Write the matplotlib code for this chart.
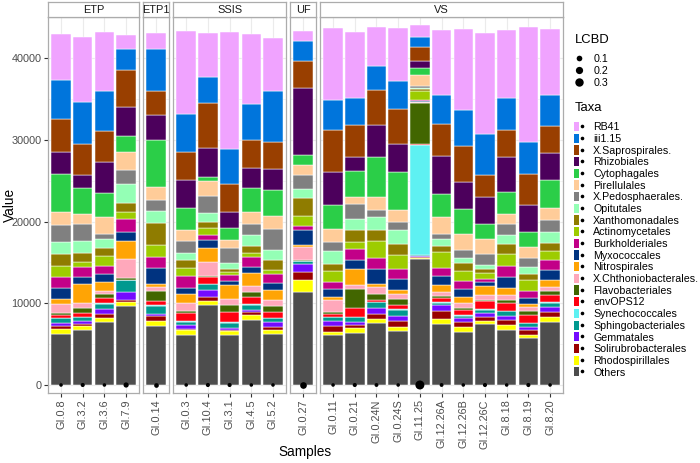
import numpy as np
import matplotlib
matplotlib.use('Agg')
import matplotlib.pyplot as plt
from matplotlib.patches import Patch
from matplotlib.lines import Line2D
from matplotlib.legend_handler import HandlerTuple

plt.rcParams['font.family'] = ['Liberation Sans', 'DejaVu Sans']

# Samples per facet
groups = ['ETP', 'ETP1', 'SSIS', 'UF', 'VS']
group_samples = [
    ['GI.0.8', 'GI.3.2', 'GI.3.6', 'GI.7.9'],
    ['GI.0.14'],
    ['GI.0.3', 'GI.10.4', 'GI.3.1', 'GI.4.5', 'GI.5.2'],
    ['GI.0.27'],
    ['GI.0.11', 'GI.0.21', 'GI.0.24N', 'GI.0.24S', 'GI.11.25', 'GI.12.26A',
     'GI.12.26B', 'GI.12.26C', 'GI.8.18', 'GI.8.19', 'GI.8.20'],
]

# LCBD per sample (same order as the samples above)
lcbd = [0.035, 0.045, 0.035, 0.08, 0.06, 0.035, 0.045, 0.045, 0.035, 0.035,
        0.16, 0.035, 0.045, 0.04, 0.035, 0.36, 0.04, 0.035, 0.045, 0.035, 0.045, 0.035]

# Abundance of each taxon per sample
rb41 = [5670, 8050, 7260, 1650, 1860, 10130, 5290, 14330, 8540, 6590, 1290,
        8710, 8040, 4760, 6390, 1410, 8020, 9980, 12390, 8350, 14060, 8050]
iii115 = [4770, 5140, 4830, 2570, 5240, 4710, 3240, 4280, 4410, 6210, 2360,
          3670, 3370, 2970, 3460, 1310, 3550, 4370, 4930, 3950, 3950, 3760]
saprospirales = [4040, 3790, 3860, 4590, 2940, 3430, 5480, 3400, 3490, 3340, 3390,
                 5230, 3880, 4280, 4280, 1630, 3900, 4410, 2720, 3270, 3790, 3390]
rhizobiales = [2690, 1590, 3730, 3490, 2960, 3400, 3550, 1980, 2440, 2460, 8150,
               4010, 1750, 3880, 3390, 890, 4660, 3320, 3370, 4280, 3270, 3280]
cytophagales = [4650, 3180, 3000, 2020, 5750, 2660, 540, 1430, 2950, 3260, 1190,
                2910, 3150, 4900, 4690, 860, 2780, 3060, 1750, 2640, 1840, 3460]
pirellulales = [1590, 1220, 2080, 2140, 1590, 1410, 1790, 990, 1410, 1540, 1220,
                1620, 810, 1600, 1530, 1370, 2120, 1920, 1920, 1310, 1350, 1430]
pedosphaerales = [2080, 2020, 550, 1770, 1350, 1510, 2040, 1920, 1350, 2630, 1750,
                  1160, 1840, 850, 1000, 180, 610, 1000, 1290, 1320, 1100, 1490]
opitutales = [1470, 1470, 1100, 2330, 1470, 780, 1200, 640, 1320, 1190, 1100,
              1490, 1430, 1630, 1710, 180, 820, 660, 450, 1130, 860, 1300]
xanthomonadales = [1470, 1100, 980, 1100, 2750, 950, 700, 400, 930, 1200, 2190,
                   890, 1380, 1320, 1350, 240, 780, 910, 560, 1140, 750, 1030]
actinomycetales = [1350, 610, 1220, 860, 1470, 980, 830, 430, 490, 490, 1300,
                   1310, 860, 2080, 1710, 1100, 1950, 1250, 660, 1490, 1260, 1080]
burkholderiales = [1350, 1220, 980, 1590, 1290, 1470, 640, 730, 1160, 1160, 390,
                   950, 1430, 1370, 1140, 120, 1030, 1020, 400, 1350, 910, 1260]
myxococcales = [1350, 920, 1040, 1100, 2020, 800, 1000, 510, 800, 820, 1860,
                980, 1020, 1750, 1430, 120, 1110, 860, 530, 1350, 770, 1250]
nitrospirales = [610, 2260, 1040, 2140, 340, 1060, 1710, 1630, 1590, 1260, 260,
                 340, 1960, 370, 400, 60, 840, 760, 1130, 830, 290, 820]
chthoniobacterales = [1100, 670, 370, 2390, 450, 1050, 1750, 760, 730, 760, 1640,
                      1400, 580, 860, 700, 120, 500, 620, 590, 610, 530, 500]
flavobacteriales = [240, 550, 550, 180, 1320, 210, 40, 830, 530, 670, 50,
                    310, 2290, 700, 730, 5020, 180, 310, 60, 370, 440, 450]
envops12 = [310, 490, 550, 60, 480, 980, 880, 1250, 890, 710, 50,
            340, 1060, 270, 470, 90, 510, 600, 1030, 1000, 980, 880]
synechococcales = [60, 30, 120, 60, 60, 120, 20, 100, 90, 60, 20,
                   60, 50, 60, 50, 13380, 60, 60, 60, 60, 50, 50]
sphingobacteriales = [610, 490, 730, 1410, 950, 400, 710, 580, 620, 430, 380,
                      490, 560, 690, 770, 150, 340, 340, 370, 580, 490, 580]
gemmatales = [370, 370, 610, 980, 240, 390, 800, 280, 330, 640, 940,
              580, 420, 730, 590, 100, 730, 490, 530, 420, 340, 550]
solirubrobacterales = [370, 310, 490, 240, 610, 220, 490, 170, 270, 310, 950,
                       690, 310, 670, 780, 120, 1000, 590, 490, 660, 610, 660]
rhodospirillales = [610, 430, 490, 550, 610, 510, 490, 400, 620, 550, 1520,
                    450, 610, 490, 530, 240, 530, 550, 430, 640, 390, 550]
others = [6240, 6730, 7650, 9610, 7280, 6180, 9850, 6180, 8000, 6240, 11360,
          6060, 6390, 7550, 6550, 15360, 7490, 6510, 7410, 6710, 5750, 7750]

# legend order (top of stack first)
taxa = ['RB41', 'iii1.15', 'X.Saprospirales.', 'Rhizobiales', 'Cytophagales',
        'Pirellulales', 'X.Pedosphaerales.', 'Opitutales', 'Xanthomonadales',
        'Actinomycetales', 'Burkholderiales', 'Myxococcales', 'Nitrospirales',
        'X.Chthoniobacterales.', 'Flavobacteriales', 'envOPS12', 'Synechococcales',
        'Sphingobacteriales', 'Gemmatales', 'Solirubrobacterales',
        'Rhodospirillales', 'Others']
taxa_values = [rb41, iii115, saprospirales, rhizobiales, cytophagales,
               pirellulales, pedosphaerales, opitutales, xanthomonadales,
               actinomycetales, burkholderiales, myxococcales, nitrospirales,
               chthoniobacterales, flavobacteriales, envops12, synechococcales,
               sphingobacteriales, gemmatales, solirubrobacterales,
               rhodospirillales, others]
taxa_colors = ['#F0A3FF', '#0075DC', '#993F00', '#4C005C', '#2BCE48',
               '#FFCC99', '#808080', '#94FFB5', '#8F7C00', '#9DCC00',
               '#C20088', '#003380', '#FFA405', '#FFA8BB', '#426600',
               '#FF0010', '#5EF1F2', '#00998F', '#740AFF', '#990000',
               '#FFFF00', '#4D4D4D']

lcbd_breaks = [0.1, 0.2, 0.3]


def dot_px(v, vmin=0.03, vmax=0.36):
    # area scale like ggplot's scale_size
    r = np.clip((np.asarray(v) - vmin) / (vmax - vmin), 0, 1)
    return 2.8 + 6.2 * np.sqrt(r)


W, H = 700, 463
fig = plt.figure(figsize=(W / 100, H / 100), dpi=100)

unit = 21.7
gap = 4
x0 = 48
panel_top, panel_bot, strip_top = 17, 393, 2
border = '#ACACAC'
grid = '#EBEBEB'
tick_col = '#4D4D4D'

pos = 0
x = x0
for gi, (g, names) in enumerate(zip(groups, group_samples)):
    n = len(names)
    w = (n + 0.2) * unit
    ax = fig.add_axes([x / W, 1 - panel_bot / H, w / W, (panel_bot - panel_top) / H])
    ax.set_xlim(-0.6, n - 0.4)
    ax.set_ylim(-980, 45040)
    xs = np.arange(n)
    bottom = np.zeros(n)
    for vals, col in zip(taxa_values[::-1], taxa_colors[::-1]):
        v = np.array(vals[pos:pos + n], dtype=float)
        ax.bar(xs, v, bottom=bottom, width=0.9, color=col,
               edgecolor='white', linewidth=0.35, zorder=2)
        bottom += v
    sizes = (dot_px(lcbd[pos:pos + n]) / 1.389) ** 2
    ax.scatter(xs, np.zeros(n), s=sizes, color='black', linewidths=0, zorder=3)

    ax.set_xticks(xs)
    ax.set_xticklabels(names, rotation=90, fontsize=7.8, color=tick_col)
    ax.set_yticks([0, 10000, 20000, 30000, 40000])
    ax.set_yticks([5000, 15000, 25000, 35000, 45000], minor=True)
    ax.grid(True, which='major', color=grid, linewidth=0.8, zorder=0)
    ax.grid(True, which='minor', axis='y', color=grid, linewidth=0.4, zorder=0)
    ax.set_axisbelow(True)
    ax.tick_params(axis='x', length=3, color='#333333', pad=1.5)
    ax.tick_params(which='minor', length=0)
    if gi == 0:
        ax.set_yticklabels(['0', '10000', '20000', '30000', '40000'],
                           fontsize=7.8, color=tick_col)
        ax.tick_params(axis='y', length=3, color='#333333', pad=1.5)
    else:
        ax.tick_params(axis='y', left=False, labelleft=False)
    for s in ax.spines.values():
        s.set_color(border)
        s.set_linewidth(0.9)

    sax = fig.add_axes([x / W, 1 - panel_top / H, w / W, (panel_top - strip_top) / H])
    sax.set_xticks([])
    sax.set_yticks([])
    for s in sax.spines.values():
        s.set_color(border)
        s.set_linewidth(0.9)
    sax.text(0.5, 0.45, g, ha='center', va='center', fontsize=7.9,
             color='#1A1A1A', transform=sax.transAxes)

    pos += n
    x += w + gap

fig.text(305 / W, 1 - 452 / H, 'Samples', ha='center', va='center', fontsize=9.8)
fig.text(10 / W, 1 - 205 / H, 'Value', ha='center', va='center', rotation=90,
         fontsize=9.8)

# legend titles
fig.text(575 / W, 1 - 40 / H, 'LCBD', ha='left', va='center', fontsize=9.4)
fig.text(575 / W, 1 - 108 / H, 'Taxa', ha='left', va='center', fontsize=9.4)

leg_kw = dict(loc='upper left', bbox_transform=fig.transFigure, frameon=False,
              borderpad=0, borderaxespad=0, fontsize=7.7, handlelength=0.95,
              handletextpad=0.85, labelspacing=0.13)

# LCBD legend
lcbd_handles = [Line2D([], [], marker='o', color='black', linestyle='',
                       markersize=float(dot_px(b)) / 1.389, markeredgewidth=0)
                for b in lcbd_breaks]
leg1 = fig.legend(lcbd_handles, [str(b) for b in lcbd_breaks],
                  bbox_to_anchor=(574 / W, 1 - 54 / H), handleheight=0.95, **leg_kw)

# Taxa legend
taxa_handles = [(Patch(facecolor=c, edgecolor='none'),
                 Line2D([], [], marker='o', color='black', linestyle='', markersize=1.6))
                for c in taxa_colors]
leg2 = fig.legend(taxa_handles, taxa,
                  handler_map={tuple: HandlerTuple(ndivide=None)},
                  bbox_to_anchor=(574 / W, 1 - 122 / H), handleheight=0.95, **leg_kw)

fig.savefig('out.png', dpi=100)
